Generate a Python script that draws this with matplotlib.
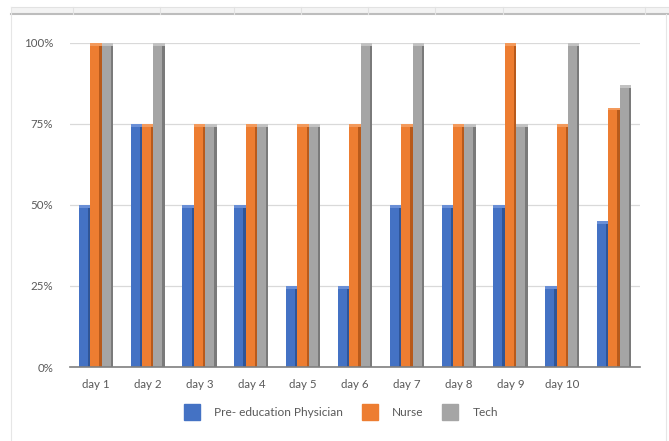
import matplotlib.pyplot as plt
from matplotlib.patches import Rectangle
from matplotlib.lines import Line2D

days = ["day 1", "day 2", "day 3", "day 4", "day 5", "day 6", "day 7",
        "day 8", "day 9", "day 10", ""]
physician = [0.50, 0.75, 0.50, 0.50, 0.25, 0.25, 0.50, 0.50, 0.50, 0.25, 0.45]
nurse = [1.00, 0.75, 0.75, 0.75, 0.75, 0.75, 0.75, 0.75, 1.00, 0.75, 0.80]
tech = [1.00, 1.00, 0.75, 0.75, 0.75, 1.00, 1.00, 0.75, 0.75, 1.00, 0.87]
series_names = ["Pre- education Physician", "Nurse", "Tech"]

faces = ["#4472C4", "#ED7D31", "#A5A5A5"]
sides = ["#2F5597", "#B85A1B", "#7A7A7A"]
tops = ["#6A8FD6", "#F39A5C", "#C2C2C2"]

plt.rcParams['font.family'] = ['Lato', 'DejaVu Sans']

fig = plt.figure(figsize=(6.69, 4.41), dpi=100)
ax = fig.add_axes([70 / 669, 1 - 367 / 441, 570 / 669, 324 / 441])

w = 0.22
side = 0.045
cap = 0.008
x = list(range(len(days)))
for k, vals in enumerate([physician, nurse, tech]):
    pos = [i + (k - 1) * w for i in x]
    ax.bar(pos, vals, width=w, color=faces[k], zorder=3, clip_on=False)
    # darker right face and light cap give the columns their 3-D look
    ax.bar([p + w / 2 - side / 2 for p in pos], vals, width=side,
           color=sides[k], zorder=4, clip_on=False)
    ax.bar(pos, [cap] * len(vals), bottom=[v - cap for v in vals], width=w,
           color=tops[k], zorder=4, clip_on=False)

ax.set_xlim(-0.5, len(days) - 0.5)
ax.set_ylim(0, 1)
ax.set_yticks([0, 0.25, 0.5, 0.75, 1.0])
ax.set_yticklabels(["0%", "25%", "50%", "75%", "100%"])
ax.set_xticks(x)
ax.set_xticklabels(days)
ax.tick_params(length=0, labelsize=8.3, colors="#595959", pad=12)
ax.tick_params(axis="x", pad=9)
ax.grid(axis="y", color="#D9D9D9", linewidth=0.9, zorder=0)
for s in ["top", "right", "left"]:
    ax.spines[s].set_visible(False)
ax.spines["bottom"].set_color("#7F7F7F")
ax.spines["bottom"].set_linewidth(1.2)
ax.spines["bottom"].set_zorder(5)

handles = [Rectangle((0, 0), 1, 1, color=c) for c in faces]
fig.legend(handles, series_names, loc="center", bbox_to_anchor=(341 / 669, 1 - 412 / 441),
           ncol=3, frameon=False, fontsize=8.6, handlelength=1.3, handleheight=1.7,
           columnspacing=1.6, handletextpad=1.2, labelcolor="#595959")

# sheet frame around the chart
fig.add_artist(Rectangle((11 / 669, 1 - 14 / 441), 1, 7 / 441, transform=fig.transFigure,
                         facecolor="#F3F3F3", edgecolor="none"))
fig.add_artist(Line2D([11 / 669, 1], [1 - 14 / 441] * 2, transform=fig.transFigure,
                      color="#BDBDBD", linewidth=1.5))
fig.add_artist(Line2D([11 / 669, 1], [1 - 7 / 441] * 2, transform=fig.transFigure,
                      color="#E2E2E2", linewidth=0.8))
for xv in [73, 160, 234, 301, 368, 435, 503, 645]:
    fig.add_artist(Line2D([xv / 669] * 2, [1 - 7 / 441, 1 - 14 / 441],
                          transform=fig.transFigure, color="#E2E2E2", linewidth=0.8))
fig.add_artist(Line2D([11 / 669] * 2, [0, 1 - 7 / 441], transform=fig.transFigure,
                      color="#E6E6E6", linewidth=0.8))
fig.add_artist(Line2D([666 / 669] * 2, [0, 1 - 14 / 441], transform=fig.transFigure,
                      color="#E6E6E6", linewidth=0.8))

fig.savefig("out.png", dpi=100)
